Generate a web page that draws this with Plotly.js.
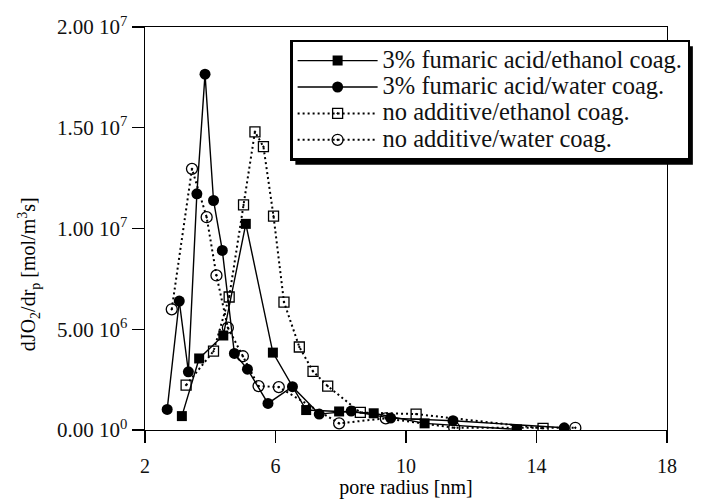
<!DOCTYPE html>
<html>
<head>
<meta charset="utf-8">
<script src="https://cdn.plot.ly/plotly-3.0.1.min.js"></script>
<style>
  html, body { margin: 0; padding: 0; background: #fff; }
  #chart { width: 704px; height: 499px; }
  /* larger legend lettering on the compact row pitch */
  .legendtext { font-size: 24.5px !important; }
</style>
</head>
<body>
<div id="chart"></div>
<script>
// Pore radius distribution of the oxygen flux, four membrane preparations
const seriesNames = [
  "3% fumaric acid/ethanol coag.",
  "3% fumaric acid/water coag.",
  "no additive/ethanol coag.",
  "no additive/water coag."
];

// 3% fumaric acid / ethanol coagulation
const faEthanolRadius = [3.13, 3.66, 4.40, 5.09, 5.92, 6.94, 7.95, 9.01, 10.57, 13.40];
const faEthanolFlux   = [0.69e6, 3.55e6, 4.69e6, 10.23e6, 3.84e6, 0.99e6, 0.92e6, 0.83e6, 0.33e6, 0.03e6];

// 3% fumaric acid / water coagulation
const faWaterRadius = [2.68, 3.05, 3.33, 3.59, 3.84, 4.10, 4.37, 4.74, 5.14, 5.77, 6.52, 7.34, 8.32, 9.53, 11.44, 14.85];
const faWaterFlux   = [1.02e6, 6.40e6, 2.89e6, 11.72e6, 17.66e6, 11.39e6, 8.91e6, 3.80e6, 3.02e6, 1.32e6, 2.15e6, 0.79e6, 0.94e6, 0.59e6, 0.46e6, 0.11e6];

// no additive / ethanol coagulation
const naEthanolRadius = [3.26, 4.10, 4.58, 5.02, 5.37, 5.63, 5.94, 6.26, 6.73, 7.15, 7.60, 8.60, 10.31, 14.20];
const naEthanolFlux   = [2.23e6, 3.91e6, 6.60e6, 11.17e6, 14.80e6, 14.06e6, 10.61e6, 6.35e6, 4.12e6, 2.91e6, 2.18e6, 0.87e6, 0.79e6, 0.08e6];

// no additive / water coagulation
const naWaterRadius = [2.82, 3.44, 3.89, 4.19, 4.54, 5.00, 5.48, 6.10, 7.95, 9.38, 11.48, 15.19];
const naWaterFlux   = [5.99e6, 12.96e6, 10.56e6, 7.67e6, 5.08e6, 3.66e6, 2.18e6, 2.13e6, 0.33e6, 0.58e6, 0.11e6, 0.11e6];

// axis ticks
const xTickVals = [2, 6, 10, 14, 18];
const yTickVals = [0, 5e6, 1e7, 1.5e7, 2e7];
const yTickText = ["0.00 10<sup>0</sup>", "5.00 10<sup>6</sup>", "1.00 10<sup>7</sup>", "1.50 10<sup>7</sup>", "2.00 10<sup>7</sup>"];

const SERIF = "Liberation Serif, Times New Roman, serif";
const INK = "#111";
const dotted = "2px,3px";

const traces = [
  {
    x: faEthanolRadius, y: faEthanolFlux, name: seriesNames[0],
    mode: "lines+markers",
    line: { color: "#000", width: 1.4 },
    marker: { symbol: "square", size: 10, color: "#000" }
  },
  {
    x: faWaterRadius, y: faWaterFlux, name: seriesNames[1],
    mode: "lines+markers",
    line: { color: "#000", width: 1.4 },
    marker: { symbol: "circle", size: 11, color: "#000" }
  },
  {
    x: naEthanolRadius, y: naEthanolFlux, name: seriesNames[2],
    mode: "lines+markers",
    line: { color: "#000", width: 2, dash: dotted },
    marker: { symbol: "square-open-dot", size: 10, color: "#000", line: { width: 1.3, color: "#000" } }
  },
  {
    x: naWaterRadius, y: naWaterFlux, name: seriesNames[3],
    mode: "lines+markers",
    line: { color: "#000", width: 2, dash: dotted },
    marker: { symbol: "circle-open-dot", size: 11, color: "#000", line: { width: 1.3, color: "#000" } }
  }
];

const layout = {
  width: 704,
  height: 499,
  margin: { l: 145, r: 37, t: 27, b: 69 },
  paper_bgcolor: "#fff",
  plot_bgcolor: "#fff",
  font: { family: SERIF, size: 20, color: INK },
  showlegend: true,
  legend: {
    x: 0.278, y: 0.968, xanchor: "left", yanchor: "top",
    bgcolor: "#fff", bordercolor: "#000", borderwidth: 2.5,
    font: { family: SERIF, size: 18, color: INK },
    itemwidth: 80,
    tracegroupgap: 0
  },
  xaxis: {
    range: [2, 18],
    tickvals: xTickVals,
    ticks: "outside", ticklen: 12, tickwidth: 1.2, tickcolor: "#000",
    ticklabelstandoff: 6,
    showline: true, linecolor: "#000", linewidth: 1.4, mirror: true,
    showgrid: false, zeroline: false,
    tickfont: { family: SERIF, size: 20, color: INK },
    title: { text: "pore radius [nm]", font: { family: SERIF, size: 20, color: "#000" }, standoff: 2 }
  },
  yaxis: {
    range: [0, 2e7],
    tickvals: yTickVals, ticktext: yTickText,
    ticks: "outside", ticklen: 12, tickwidth: 1.2, tickcolor: "#000",
    showline: true, linecolor: "#000", linewidth: 1.4, mirror: true,
    showgrid: false, zeroline: false,
    tickfont: { family: SERIF, size: 21, color: INK }
  },
  annotations: [
    {
      text: "dJO<sub>2</sub>/dr<sub>p</sub> [mol/m<sup>3</sup>s]",
      xref: "paper", yref: "paper", x: -0.222, y: 0.387,
      xanchor: "center", yanchor: "middle",
      textangle: -90, showarrow: false,
      font: { family: SERIF, size: 20, color: "#000" }
    }
  ]
};

const gd = document.getElementById("chart");
Plotly.newPlot(gd, traces, layout, { staticPlot: true }).then(function () {
  // drop shadow behind the legend box
  const bg = gd.querySelector(".legend .bg");
  if (!bg) return;
  const r = bg.getBoundingClientRect();
  const g = gd.getBoundingClientRect();
  const fl = gd._fullLayout;
  const pw = fl._size.w, ph = fl._size.h, pl = fl._size.l, pt = fl._size.t;
  const toX = px => (px - g.left - pl) / pw;
  const toY = py => 1 - (py - g.top - pt) / ph;
  const dx = 4, dy = 5;
  return Plotly.relayout(gd, {
    shapes: [{
      type: "rect", xref: "paper", yref: "paper", layer: "above",
      x0: toX(r.left + dx), x1: toX(r.right + dx),
      y0: toY(r.bottom + dy), y1: toY(r.top + dy),
      fillcolor: "#000", line: { width: 0 }
    }]
  });
});
</script>
</body>
</html>
